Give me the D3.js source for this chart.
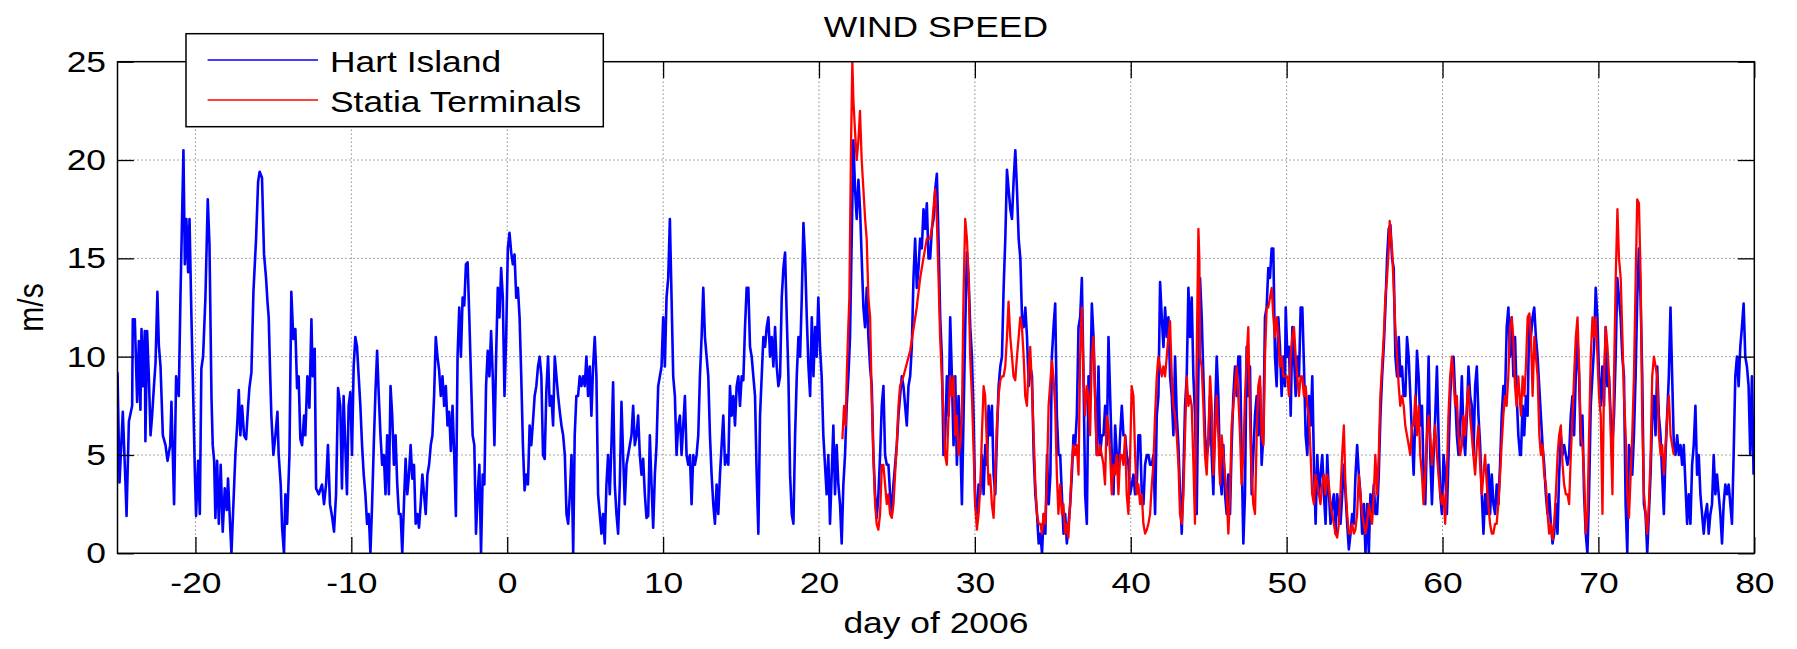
<!DOCTYPE html>
<html>
<head>
<meta charset="utf-8">
<script src="https://cdn.jsdelivr.net/npm/d3@7"></script>
<style>
  html, body { margin: 0; padding: 0; background: #fff; }
  svg { display: block; }
  text { font-family: "Liberation Sans", Arial, Helvetica, sans-serif; fill: #000; }
</style>
</head>
<body>
<div id="chart"></div>
<script>
// WIND SPEED — Hart Island vs Statia Terminals, MATLAB-style line plot.
const xTicks = [-20, -10, 0, 10, 20, 30, 40, 50, 60, 70, 80];
const yTicks = [0, 5, 10, 15, 20, 25];
const seriesNames = ["Hart Island", "Statia Terminals"];
const seriesColors = ["#0000ff", "#ff0000"];

// Hart Island, days -25 .. -10.9, read point by point [day, m/s]
const hartEarly = [[-25.00,9.2],[-24.87,3.6],[-24.66,7.2],[-24.49,3.6],[-24.42,1.9],[-24.27,6.7],[-24.06,7.5],[-24.02,11.9],[-23.89,11.9],[-23.74,7.7],[-23.63,10.8],[-23.53,7.3],[-23.46,11.4],[-23.38,8.5],[-23.25,11.3],[-23.21,5.7],[-23.10,11.3],[-22.99,9],[-22.88,6],[-22.78,7],[-22.67,8.4],[-22.56,9.7],[-22.44,13.3],[-22.35,10.6],[-22.24,9.5],[-22.09,6],[-21.92,5.5],[-21.79,4.7],[-21.62,5.5],[-21.54,7.7],[-21.37,2.5],[-21.24,9],[-21.07,8],[-20.96,13.1],[-20.77,20.5],[-20.68,14.7],[-20.58,17],[-20.47,14.3],[-20.38,17],[-20.26,12.1],[-20.17,9],[-20.04,4.2],[-19.96,1.9],[-19.83,4.7],[-19.72,2],[-19.62,9.4],[-19.51,10],[-19.36,13],[-19.21,18],[-19.10,15.7],[-18.97,7.9],[-18.89,5.5],[-18.80,4.7],[-18.72,1.8],[-18.61,4.7],[-18.50,1.5],[-18.38,4.5],[-18.25,1.1],[-18.12,3.3],[-17.99,2.2],[-17.91,3.8],[-17.78,1.5],[-17.69,0],[-17.59,2],[-17.44,5],[-17.31,6.7],[-17.22,8.3],[-17.12,6],[-17.01,7.5],[-16.88,6],[-16.75,5.8],[-16.62,7.5],[-16.54,8.4],[-16.41,9.2],[-16.28,13.3],[-16.11,16],[-15.98,18.9],[-15.88,19.4],[-15.73,19.1],[-15.60,15.2],[-15.47,14],[-15.38,12.8],[-15.30,12],[-15.21,9.2],[-15.13,7],[-15.00,5],[-14.87,6],[-14.74,7.2],[-14.66,5],[-14.53,3.5],[-14.44,1.3],[-14.32,0],[-14.23,3],[-14.12,1.5],[-13.97,5],[-13.85,13.3],[-13.72,10.9],[-13.59,11.4],[-13.48,8.4],[-13.38,9],[-13.27,5.8],[-13.16,5.5],[-13.03,7],[-12.95,6],[-12.82,9],[-12.69,7.4],[-12.56,11.9],[-12.48,9],[-12.35,10.4],[-12.26,3.3],[-12.09,3],[-11.88,3.5],[-11.75,2.5],[-11.62,3.5],[-11.50,5.5],[-11.37,2.5],[-11.24,1.9],[-11.11,1.1],[-10.98,3],[-10.85,8.4]];

// Hart Island, evenly sampled stretches: first day, sample step (days), speeds
const hartStarts = [-10.71, 4.33, 19.85, 34.94, 49.94, 65.03];
const hartSteps = [0.1075, 0.1071, 0.1071, 0.1068, 0.1066, 0.1066];
const hartB = [7.5,3.3,8,5.5,3,7.5,8.2,5,9.5,11, 10.5,9,7.5,5.5,4,3,1.5,2,0,2.5,
  5.5,8.2,10.3,8,6,4.5,5,3,6,3, 8.5,7,4.5,6,3.5,2,2,0,2.5,4.8,
  3,4,5.5,3.8,4.5,1.5,2,1.3,2.5,4, 3,2,4,4.5,5.5,6,8,11,10,9.3,
  8,9,7.5,8.5,6.5,7.2,5.2,7.5,5,1.9, 10,12.5,10,13,12.6,14.7,14.8,12,9,6,
  5.5,1,3,4.5,0,4,3.5,8.5,10.3,9, 11.3,9,5.5,10,13.5,12,14.5,13,8,11,
  15.5,16.3,15.3,14.7,15.2,13,13.5,12,9,5.5, 3.2,4,3.5,6.5,5.5,6.7,8,8.5,9.5,10,
  9,5,4.8,8.3,10,7.5,8,6.5,10,9, 8,7.2,6.5,6,5,2,1.5,3,5,0];
const hartC = [6,8,8,9,8.5,9,8.5,10,8,9.5, 7,9.5,11,9,3,2,1,2,0.5,3.5,
  5,3,5.5,8.7,3.5,2,1,3.5,7.7,5, 2.5,4.5,5,5.5,6,7.5,5.5,6,7,5,
  4,4.8,3,1.8,1.9,6,3.5,1.3,4,5.5, 8.5,9,9.5,12,9.5,13,14,17,13,9,
  8,5,6.5,7,5,6.5,8,5,4.5,5, 2.5,5,4.5,5,6,9,11,13.5,11,10,
  9,6,4,2.5,1.5,3.5,2,4,5.5,7, 4.5,5,4.5,8.5,7,8,6.5,8.5,9,7.5,
  9,8.8,11.5,13.5,13.5,10.5,10,9,8,4, 1,7,9,11,10.5,11.5,12,10,11,9.5,
  11.5,9.5,8.5,9,13,14.5,15.3,12,9,4, 2,1.5,6,9,11,10,13,16.8,15,12,
  9.5,8,12,9,11.5];
const hartD = [10,13,10.5,9,6,4.5,3,5,1.5,4, 6.5,3,5.5,3.5,2.5,0.5,3.5,5,7.5,9,
  11,16,21,18.5,17,19,17.5,15,12.5,11.5, 13.5,11,9.5,8.5,5,3,1.8,3,5,7.5,
  8.5,5,4.5,4.5,3,2,3.5,4.5,5.5,7, 8,9,8.5,7.5,6.5,8.5,9,10.5,14,16,
  13.5,14.5,16,15.5,17.5,16.5,17.8,15,15,16.5, 17,18.5,19.3,16,12,10,5,6,9,7,
  12,9,5.5,9,4.5,8,6,2.5,7,11.5, 15.3,14,11.5,10,7,2.5,2,3.5,3,5,
  3,5.5,4.5,7.5,6,7.5,4,3,6,8.5, 9.5,10,13.5,16,19.5,18.5,17.5,17,19,20.5,
  18.5,16,15,12,11.5,12.5,11,8.5,9.5,9, 5,3,2,0.5,1,0,2,1,5,2.5,
  4];
const hartE = [10,11.5,12.7,7,5,5,3,1,2,0.5, 1.5,2.5,4,6,5.5,7,11.5,12,14,9,
  3,1.5,9,8,12.7,11,8,5,9.5,5, 6,6,7.5,5.5,11,8,5,3,6.5,5,
  4,6,7.5,6,6,5,4.5,3,3.5,4, 3,3.5,6,6,3,2.5,4.5,5,5,4.5,
  4.5,5,2,7,8,13.8,12,10.5,12.5,11, 12,9,8,6,10,7,5.5,3,1,4,
  7.5,9,13.5,11,13,9,7,2,9,14, 12,9,6,5,5.5,8,5,3,7,10,
  8,4,3,5.5,3,2,4,2,5.5,8, 9.5,8,10,10,5,0.5,3,10.5,8,9.5,
  3,5,7,8,6,8.5,4.5,6,12,12.5, 14.5,14,15.5,15.5,10,8.5,12,10.5,8,10,
  8.5];
const hartF = [12.5,10,10.5,7,11.5,10,8,10,9,12.5, 12.5,9.5,6,5,8,6.5,9,4.5,1.5,5,
  3,4,5,3,1.5,5,3,1.5,2.5,3, 1,3,2,1.5,3,4.5,3,1.5,0.2,1,
  2,1.5,4,5.5,4,3,1,2.5,0,2.5, 0,3,2,3.5,2,2,4,7,9,10.5,
  12.5,15,16.5,16.7,15,14.5,10,9,11,9, 9.5,8,8,11,10,8,6,4,7,10.3,
  9,6.5,7.5,4,2.5,6,10,5,2.5,5, 7,9.5,6,3,2,5,4,2,5,8,
  9.5,10,8,6,5,6.5,9,6,5,7, 9.5,8,7.5,5,8.5,9.5,7,5.5,3,1,
  3,2,4.5,2,4,2.5,2,3.5,2.5,4.5, 7,8.5,8,11.5,12.5,10,12,9,11,8,
  6,5];
const hartG = [5,7.5,6,8,7,12,11,12,12.5,11, 10,8.5,7,5.5,4.5,3,2,3,1.5,0.5,
  1,2.5,1,4,6,5,5.5,5,4.5,5, 7,8,6,9,11,9,5.5,7,3,1,
  0,3,7.5,9,10.5,13.5,12,9,7.5,9.5, 7.5,11.5,8.5,9,7,5.5,7,10,14,13,
  12,10,9,2.5,0,5.5,5,4,6,9, 13,15.5,13,9,2.5,2,0,2,4,7,
  8,6,9.5,7,6,4,2,5,7,9, 12.5,9,5.5,5,6,5,5.5,4.5,5.5,3.5,
  1.5,3,1.5,4.5,5.5,7.5,4,5,3,2, 1,2,2.5,1,2,2.5,5,3,4,3,
  2,0.5,2.5,3.5,3,3.5,2.5,1.5,5,9, 10,8.5,10.5,11.5,12.7,10,9.5,8.5,5,9,
  4];

// Statia Terminals, read point by point [day, m/s]
const statia = [[21.50,5.8],[21.61,7.5],[21.71,6.5],[21.78,9],[21.88,11.5],[21.95,13],[21.99,16],[22.06,21],[22.14,25],[22.21,23],[22.31,21.5],[22.42,20],[22.53,21],[22.63,22.5],[22.74,20],[22.85,18.5],[22.96,17],[23.06,16],[23.17,13],[23.28,12],[23.38,8],[23.49,5],[23.60,2.5],[23.70,1.5],[23.81,1.2],[23.92,2],[24.03,4.5],[24.13,4.5],[24.24,3.5],[24.35,2.5],[24.45,3],[24.56,2],[24.67,1.8],[24.78,2.5],[24.88,4],[24.99,5.5],[25.10,7.5],[25.20,8.5],[25.42,9],[25.85,10.3],[26.27,12.5],[26.49,14],[26.70,15],[26.92,16],[27.13,16],[27.24,16.5],[27.34,17.5],[27.45,18.5],[27.56,17],[27.67,14],[27.77,11],[27.88,9],[27.99,7],[28.09,5],[28.20,4.5],[28.31,7],[28.42,9],[28.52,8],[28.63,9],[28.74,6],[28.84,7],[28.95,5],[29.06,5.5],[29.17,7],[29.27,13],[29.38,17],[29.49,16],[29.60,14],[29.70,10],[29.81,8],[29.91,5.5],[30.02,2.5],[30.13,1.2],[30.24,2],[30.36,3.5],[30.45,6],[30.56,8.5],[30.66,8],[30.77,5.5],[30.88,3.5],[30.98,4],[31.09,2.5],[31.20,1.8],[31.31,4],[31.41,6.5],[31.52,8],[31.63,8.8],[31.73,9],[31.84,9],[31.95,9.5],[32.06,11],[32.16,12.8],[32.27,11],[32.38,10],[32.48,9],[32.59,8.8],[32.70,10],[32.81,11],[32.91,12],[33.02,11.5],[33.13,10],[33.23,8],[33.34,7.5],[33.45,9.5],[33.55,10.5],[33.66,8.5],[33.77,6],[33.88,3.5],[33.98,2],[34.09,1.5],[34.20,1.5],[34.30,1],[34.41,2],[34.52,1.5],[34.63,4],[34.73,7.5],
  [34.94,9.8],[35.04,9],[35.15,7.5],[35.26,4],[35.36,2],[35.47,3.5],[35.58,2],[35.68,2.5],[35.79,1],[35.90,1.5],[36.00,0.8],[36.11,2.5],[36.22,4.5],[36.32,5.5],[36.43,5],[36.54,5.5],[36.65,4],[36.75,10],[36.86,12.5],[36.97,9],[37.07,7],[37.18,8.5],[37.29,8],[37.39,6],[37.50,10],[37.61,11],[37.71,8],[37.82,5],[37.93,5],[38.03,5.5],[38.14,5],[38.25,4.5],[38.35,3.5],[38.46,7],[38.57,6.5],[38.68,5],[38.78,3],[38.89,4.5],[38.99,4],[39.10,5],[39.21,3],[39.32,5],[39.42,5],[39.53,4.5],[39.64,6],[39.74,3],[39.85,2],[39.96,5],[40.06,8.5],[40.17,8],[40.28,5],[40.38,3],[40.49,3.5],[40.60,2.5],[40.71,3],[40.81,1.5],[40.92,1],[41.03,1.2],[41.13,1.5],[41.24,2],[41.35,3.5],[41.45,4.5],[41.56,7],[41.67,9],[41.77,10],[41.88,9.5],[41.99,9],[42.09,9.5],[42.20,9],[42.31,10],[42.41,11],[42.52,11.8],[42.63,9],[42.73,7.5],[42.84,7],[42.95,6],[43.06,4.5],[43.16,2],[43.27,1.5],[43.38,3],[43.48,6],[43.59,9],[43.70,7.5],[43.80,8],[43.91,7.5],[44.02,4.5],[44.12,1.5],[44.23,10],[44.34,16.5],[44.40,15],[44.44,10],[44.55,9.5],[44.66,7.5],[44.76,5],[44.87,4],[44.98,6],[45.09,9],[45.19,7.5],[45.30,4],[45.41,6],[45.51,8],[45.62,6],[45.73,3.5],[45.83,6],[45.94,5],[46.05,4],[46.15,3],[46.26,1],[46.37,3],[46.47,6.5],[46.58,7.5],[46.69,8.5],[46.79,9.5],[46.90,8],[47.01,6],[47.11,3.5],[47.22,5],[47.33,8],[47.44,10],[47.54,11.5],[47.65,7],[47.76,4],[47.86,2.5],[47.97,2],[48.08,6],[48.18,8.5],[48.29,9],[48.40,6],[48.51,5.5],[48.61,10],[48.72,12.5],[48.82,12.5],[48.93,13],[49.04,13.5],[49.15,12],[49.25,11],[49.36,12],[49.47,11],[49.57,9.5],[49.68,10],[49.79,9],
  [50.04,9],[50.15,8],[50.26,10],[50.36,11],[50.47,11.5],[50.58,10],[50.68,9],[50.79,8],[50.90,9],[51.00,9],[51.11,8],[51.22,8.5],[51.32,7.5],[51.43,7],[51.54,5],[51.64,3],[51.75,2.5],[51.85,4],[51.96,3.5],[52.07,3],[52.17,2.5],[52.28,3.5],[52.39,4],[52.49,3],[52.60,4],[52.71,3.5],[52.81,2.5],[52.92,2],[53.03,1.5],[53.13,1],[53.24,0.8],[53.35,1.5],[53.45,3],[53.56,5],[53.67,6.5],[53.77,3.5],[53.88,2],[53.99,1],[54.09,1],[54.20,1.5],[54.31,1],[54.41,1.2],[54.52,2],[54.63,4],[54.73,3],[54.84,2],[54.95,1.5],[55.05,1],[55.16,1.5],[55.27,2.5],[55.37,2],[55.48,1.5],[55.59,3],[55.69,5],[55.80,3],[55.91,5],[56.01,8],[56.12,9.5],[56.23,11],[56.33,13],[56.44,14],[56.55,15.5],[56.61,16.9],[56.70,16],[56.76,15.5],[56.87,13.5],[56.97,11.5],[57.08,10],[57.19,8.5],[57.29,7.5],[57.40,8],[57.51,7.5],[57.61,6.5],[57.72,6],[57.83,5.5],[57.93,5],[58.04,6.5],[58.15,6.5],[58.25,8],[58.36,6],[58.47,7.5],[58.57,5],[58.68,4],[58.78,2.5],[58.89,4],[59.00,6],[59.10,7],[59.21,6],[59.32,4.5],[59.42,5.5],[59.53,6.5],[59.64,5],[59.74,4],[59.85,3],[59.96,2.5],[60.06,3],[60.17,1.5],[60.28,4],[60.38,7],[60.49,9],[60.60,10],[60.70,9],[60.81,7.5],[60.92,8],[61.02,6],[61.13,5],[61.24,5.5],[61.34,7],[61.45,6],[61.56,7.5],[61.66,8.5],[61.77,7],[61.88,6],[61.98,5],[62.09,4],[62.20,5.5],[62.30,6.5],[62.41,4.5],[62.52,3],[62.62,4],[62.73,5],[62.84,3.5],[62.94,2.5],[63.05,1.5],[63.16,1],[63.26,1],[63.37,1.5],[63.47,1.5],[63.58,2.5],[63.69,4],[63.79,5.5],[63.90,7],[64.01,8],[64.11,7.5],[64.22,9],[64.33,11.5],[64.43,12],[64.54,11],[64.65,8.5],[64.75,7.5],[64.86,9],
  [65.03,7],[65.14,9],[65.25,8],[65.35,9.5],[65.46,12],[65.57,12.2],[65.67,11],[65.78,8],[65.89,11],[65.99,10],[66.10,9],[66.21,6],[66.31,5],[66.42,5.5],[66.52,4],[66.63,3.5],[66.74,2],[66.84,1],[66.95,1.5],[67.06,0.7],[67.16,1.5],[67.27,3],[67.38,5],[67.48,6],[67.59,6.5],[67.70,4.5],[67.80,3.5],[67.91,3],[68.02,3],[68.12,2.5],[68.23,5],[68.34,7],[68.44,9],[68.55,11],[68.66,12],[68.76,9.5],[68.87,6],[68.98,5.5],[69.08,4],[69.19,1],[69.30,2],[69.40,6],[69.51,10],[69.62,12],[69.72,11],[69.83,12],[69.94,10],[70.04,8],[70.15,7],[70.26,2],[70.36,9],[70.47,11.5],[70.58,10.5],[70.68,9],[70.79,6],[70.90,3],[71.00,9],[71.11,14],[71.22,17.5],[71.32,15],[71.43,14],[71.54,11],[71.64,8],[71.75,6],[71.86,3],[71.96,1.8],[72.07,4],[72.17,6],[72.28,9],[72.39,14],[72.49,18],[72.60,17.8],[72.71,14],[72.81,7],[72.92,3],[73.03,2],[73.13,1],[73.24,2.5],[73.35,5],[73.45,9],[73.56,10],[73.67,9.5],[73.77,9],[73.88,6],[73.99,5],[74.09,5.5],[74.20,4],[74.31,5.5],[74.41,7],[74.52,8],[74.63,6],[74.73,5.5],[74.84,5]];

// ---- layout ----
const W = 1797, H = 649;
const plot = { left: 117.5, right: 1754.3, top: 61.7, bottom: 553.3 };
const FONT = 30, STRETCH = 1.18, TICK = 16.4;
const lineWidths = [2.6, 2.3];

const hart = hartEarly.concat(
  [hartB, hartC, hartD, hartE, hartF, hartG].flatMap((arr, k) =>
    arr.map((v, i) => [hartStarts[k] + i * hartSteps[k], v])));

const x = d3.scaleLinear().domain([-25, 80]).range([plot.left, plot.right]);
const y = d3.scaleLinear().domain([0, 25]).range([plot.bottom, plot.top]);

const svg = d3.select("#chart").append("svg").attr("width", W).attr("height", H);
svg.append("rect").attr("width", W).attr("height", H).attr("fill", "#fff");

// dotted grid
const grid = svg.append("g").attr("stroke", "#000").attr("stroke-width", 0.9)
  .attr("stroke-dasharray", "1,3").attr("opacity", 0.75);
grid.selectAll(".gx").data(xTicks.filter(d => d < 80)).join("line")
  .attr("x1", d => x(d)).attr("x2", d => x(d)).attr("y1", plot.top).attr("y2", plot.bottom);
grid.selectAll(".gy").data(yTicks.filter(d => d > 0 && d < 25)).join("line")
  .attr("y1", d => y(d)).attr("y2", d => y(d)).attr("x1", plot.left).attr("x2", plot.right);

// data
svg.append("clipPath").attr("id", "clip").append("rect")
  .attr("x", plot.left).attr("y", plot.top)
  .attr("width", plot.right - plot.left).attr("height", plot.bottom - plot.top);
const line = d3.line().x(d => x(d[0])).y(d => y(d[1]));
const lines = svg.append("g").attr("clip-path", "url(#clip)").attr("fill", "none")
  .attr("stroke-linejoin", "round");
[hart, statia].forEach((s, i) =>
  lines.append("path").datum(s).attr("d", line)
    .attr("stroke", seriesColors[i]).attr("stroke-width", lineWidths[i]));

// axes, MATLAB box with inward ticks on all four sides
const fmt = d => String(d);
const styleAxis = g => {
  g.select(".domain").remove();
  g.selectAll(".tick line").attr("stroke", "#000").attr("stroke-width", 1.3);
  g.selectAll("text").attr("font-size", FONT);
};
svg.append("g").attr("transform", `translate(0,${plot.bottom})`)
  .call(d3.axisBottom(x).tickValues(xTicks).tickSizeInner(-TICK).tickSizeOuter(0).tickFormat(fmt))
  .call(styleAxis)
  .call(g => g.selectAll("text").attr("y", 39.7).attr("dy", null)
    .attr("transform", `scale(${STRETCH},1)`));
svg.append("g").attr("transform", `translate(${plot.left},0)`)
  .call(d3.axisLeft(y).tickValues(yTicks).tickSizeInner(-TICK).tickSizeOuter(0).tickFormat(fmt))
  .call(styleAxis)
  .call(g => g.selectAll("text").attr("x", -11.5 / STRETCH)
    .attr("transform", `scale(${STRETCH},1)`));
svg.append("g").attr("transform", `translate(0,${plot.top})`)
  .call(d3.axisTop(x).tickValues(xTicks).tickSizeInner(-TICK).tickSizeOuter(0).tickFormat(""))
  .call(styleAxis);
svg.append("g").attr("transform", `translate(${plot.right},0)`)
  .call(d3.axisRight(y).tickValues(yTicks).tickSizeInner(-TICK).tickSizeOuter(0).tickFormat(""))
  .call(styleAxis);
svg.append("rect").attr("x", plot.left).attr("y", plot.top)
  .attr("width", plot.right - plot.left).attr("height", plot.bottom - plot.top)
  .attr("fill", "none").attr("stroke", "#000").attr("stroke-width", 1.5);

// titles
const midX = (plot.left + plot.right) / 2;
const label = (tx, ty, str, extra = "") => svg.append("text")
  .attr("transform", `translate(${tx},${ty}) ${extra}`)
  .attr("text-anchor", "middle").attr("font-size", FONT).text(str);
label(midX, 37, "WIND SPEED", `scale(${STRETCH},1)`);
label(midX, 633, "day of 2006", `scale(${STRETCH},1)`);
label(43, (plot.top + plot.bottom) / 2, "m/s", `rotate(-90) scale(1,${STRETCH})`);

// legend
const leg = svg.append("g");
leg.append("rect").attr("x", 186).attr("y", 33.7).attr("width", 417.3).attr("height", 93)
  .attr("fill", "#fff").attr("stroke", "#000").attr("stroke-width", 1.5);
seriesNames.forEach((name, i) => {
  const ly = 60 + i * 40;
  leg.append("line").attr("x1", 207.6).attr("x2", 318).attr("y1", ly).attr("y2", ly)
    .attr("stroke", seriesColors[i]).attr("stroke-width", 1.3);
  leg.append("text").attr("transform", `translate(330,${ly + 11.5}) scale(${STRETCH},1)`)
    .attr("font-size", FONT).text(name);
});
</script>
</body>
</html>
